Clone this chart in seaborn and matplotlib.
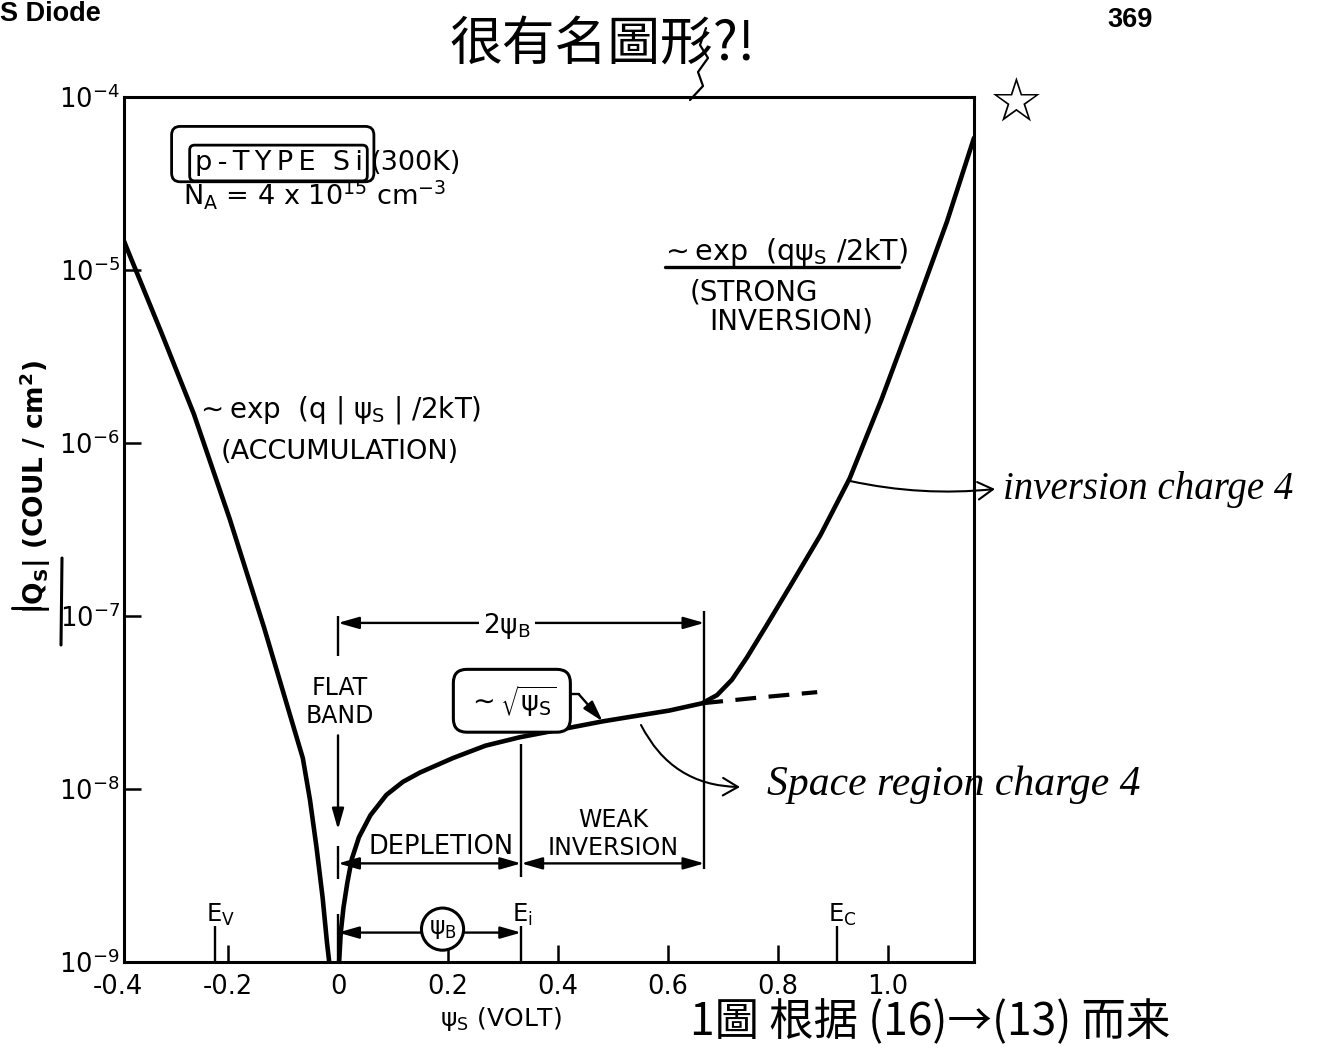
import matplotlib
matplotlib.use("Agg")
import matplotlib.pyplot as plt
import matplotlib.transforms as mtransforms
from matplotlib.lines import Line2D
from matplotlib.patches import FancyBboxPatch
from matplotlib.ticker import NullLocator
import pandas as pd
import seaborn as sns

# Surface space-charge density |Q_s| versus surface potential psi_s
# for p-type Si, N_A = 4e15 cm^-3 at 300 K.

# accumulation branch (psi_s < 0)
acc_psi = [-0.389, -0.384, -0.322, -0.262, -0.197, -0.134, -0.083, -0.064,
           -0.051, -0.039, -0.028, -0.020, -0.016]
acc_q = [1.47e-5, 1.34e-5, 4.42e-6, 1.47e-6, 3.65e-7, 8.49e-8, 2.41e-8, 1.51e-8,
         8.67e-9, 4.58e-9, 2.36e-9, 1.29e-9, 1.0e-9]

# depletion -> weak inversion -> strong inversion branch (psi_s > 0)
inv_psi = [0.002, 0.005, 0.010, 0.017, 0.025, 0.038, 0.059, 0.088, 0.118, 0.149,
           0.209, 0.268, 0.330, 0.421, 0.481, 0.540, 0.602, 0.662, 0.689, 0.716,
           0.743, 0.779, 0.823, 0.877, 0.930, 0.988, 1.048, 1.107, 1.156]
inv_q = [1.0e-9, 1.48e-9, 2.07e-9, 2.88e-9, 3.93e-9, 5.26e-9, 7.06e-9, 9.25e-9,
         1.10e-8, 1.245e-8, 1.51e-8, 1.78e-8, 1.99e-8, 2.26e-8, 2.46e-8, 2.64e-8,
         2.84e-8, 3.13e-8, 3.49e-8, 4.28e-8, 5.74e-8, 8.83e-8, 1.51e-7, 2.94e-7,
         6.24e-7, 1.79e-6, 5.82e-6, 1.91e-5, 5.80e-5]

# depletion charge continued beyond 2*psi_B (dashed)
ext_psi = [0.662, 0.770, 0.871]
ext_q = [3.13e-8, 3.39e-8, 3.63e-8]

# band-edge markers and bulk potential
band_psi = [-0.224, 0.333, 0.907]
band_labels = ["E$_V$", "E$_i$", "E$_C$"]
psi_b = 0.333

x_ticks = [-0.2, 0.0, 0.2, 0.4, 0.6, 0.8, 1.0]
x_tick_labels = ["-0.2", "0", "0.2", "0.4", "0.6", "0.8", "1.0"]
y_ticks = [1e-9, 1e-8, 1e-7, 1e-6, 1e-5, 1e-4]
y_tick_labels = ["10$^{-9}$", "10$^{-8}$", "10$^{-7}$", "10$^{-6}$",
                 "10$^{-5}$", "10$^{-4}$"]

sns.set_theme(style="ticks")
plt.rcParams["font.family"] = ["DejaVu Sans"]
plt.rcParams.update({
    "mathtext.default": "regular",
    "axes.unicode_minus": False,
    "text.color": "black",
    "axes.labelcolor": "black",
    "xtick.color": "black",
    "ytick.color": "black",
})

W, H = 1327, 1048
fig = plt.figure(figsize=(W / 100, H / 100), dpi=100, facecolor="white")
ax = fig.add_axes([124 / W, 1 - 962 / H, 850 / W, 865 / H])
ax.set_facecolor("white")
ax.set_yscale("log")

acc = pd.DataFrame({"psi": acc_psi, "q": acc_q})
inv = pd.DataFrame({"psi": inv_psi, "q": inv_q})
ext = pd.DataFrame({"psi": ext_psi, "q": ext_q})

for df in (acc, inv):
    sns.lineplot(data=df, x="psi", y="q", ax=ax, color="black", linewidth=3.3,
                 sort=False, estimator=None, solid_joinstyle="round")
sns.lineplot(data=ext, x="psi", y="q", ax=ax, color="black", linewidth=3.0,
             sort=False, estimator=None)
ax.lines[-1].set_linestyle((0, (5, 3)))

ax.set_xlim(-0.389, 1.156)
ax.set_ylim(1e-9, 1e-4)
ax.set_xticks(x_ticks, x_tick_labels)
ax.set_yticks(y_ticks, y_tick_labels)
ax.xaxis.set_minor_locator(NullLocator())
ax.yaxis.set_minor_locator(NullLocator())
ax.tick_params(axis="both", which="major", direction="in", width=1.8,
               labelsize=18.5, color="black", labelcolor="black")
ax.tick_params(axis="x", length=12.5, pad=9)
ax.tick_params(axis="y", length=12, pad=3)
for sp in ax.spines.values():
    sp.set_visible(True)
    sp.set_linewidth(2.2)
    sp.set_color("black")
ax.set_xlabel("")
ax.set_ylabel("")

# corner tick label of the psi axis
lab_tr = (mtransforms.blended_transform_factory(ax.transData, ax.transAxes)
          + mtransforms.ScaledTranslation(0, -9 / 72, fig.dpi_scale_trans))
ax.text(-0.4, 0, "-0.4", transform=lab_tr, ha="center", va="top",
        fontsize=18.5, clip_on=False)

LW = 1.7

# band-edge markers
ax.vlines(band_psi, 1e-9, 10 ** -8.79, color="black", lw=LW)
for x, lab in zip(band_psi, band_labels):
    ax.text(x - 0.016, 10 ** -8.765, lab, fontsize=17.5, ha="left", va="baseline")


def dim(x0, x1, y, style="<|-|>"):
    ax.annotate("", xy=(x1, y), xytext=(x0, y),
                arrowprops=dict(arrowstyle=f"{style},head_length=0.7,head_width=0.2",
                                color="black", lw=LW, shrinkA=0, shrinkB=0,
                                mutation_scale=18))


# 2 psi_B span
ax.vlines(0.0, 10 ** -7.23, 10 ** -7.00, color="black", lw=LW)
ax.vlines(2 * psi_b, 10 ** -8.46, 10 ** -6.97, color="black", lw=LW)
dim(0.0, 2 * psi_b, 10 ** -7.04)
ax.text(0.307, 10 ** -7.06, r"2$\psi_B$", fontsize=19, ha="center", va="center",
        bbox=dict(boxstyle="square,pad=0.15", fc="white", ec="none"))

# depletion / weak inversion spans
ax.vlines(psi_b, 10 ** -8.51, 10 ** -7.74, color="black", lw=LW)
ax.vlines(0.0, 10 ** -8.52, 10 ** -8.33, color="black", lw=LW)
dim(0.0, psi_b, 10 ** -8.43)
dim(psi_b, 2 * psi_b, 10 ** -8.43)
ax.text(0.187, 10 ** -8.337, "DEPLETION", fontsize=18.5, ha="center", va="center")
ax.text(0.501, 10 ** -8.258, "WEAK\nINVERSION", fontsize=17, ha="center",
        va="center", linespacing=1.2)

# psi_B span
ax.vlines(0.0, 1e-9, 10 ** -8.72, color="black", lw=LW)
dim(0.0, psi_b, 10 ** -8.83)
ax.text(0.190, 10 ** -8.81, r"$\psi_B$", fontsize=17, ha="center", va="center",
        bbox=dict(boxstyle="circle,pad=0.3", fc="white", ec="black", lw=2.2))

# flat band
ax.text(0.004, 10 ** -7.497, "FLAT\nBAND", fontsize=17, ha="center", va="center",
        linespacing=1.25)
ax.annotate("", xy=(0.0, 10 ** -8.234), xytext=(0.0, 10 ** -7.69),
            arrowprops=dict(arrowstyle="-|>,head_length=0.7,head_width=0.2",
                            color="black", lw=LW, shrinkA=0, shrinkB=0,
                            mutation_scale=18))

# square-root law label pointing at the depletion curve
ax.text(0.316, 10 ** -7.49, r"$\sim\sqrt{\psi_S}$", fontsize=19.5, ha="center",
        va="center",
        bbox=dict(boxstyle="round,pad=0.5", fc="white", ec="black", lw=2.2))
ax.plot([0.405, 0.438], [3.52e-8, 3.52e-8], color="black", lw=LW)
ax.annotate("", xy=(inv_psi[14], inv_q[14]), xytext=(0.438, 3.52e-8),
            arrowprops=dict(arrowstyle="-|>,head_length=0.7,head_width=0.2",
                            color="black", lw=LW, shrinkA=0, shrinkB=0,
                            mutation_scale=18))

# asymptotic laws
T = ax.transAxes
ax.text(0.631, 0.812, r"$\sim$exp  (q$\psi_S$ /2kT)", transform=T, fontsize=20.5,
        ha="left", va="baseline")
ax.plot([0.636, 0.912], [0.803, 0.803], transform=T, color="black", lw=2.4)
ax.text(0.666, 0.765, "(STRONG", transform=T, fontsize=20, ha="left",
        va="baseline")
ax.text(0.689, 0.731, "INVERSION)", transform=T, fontsize=20, ha="left",
        va="baseline")
ax.text(0.084, 0.629, r"$\sim$exp  (q | $\psi_S$ | /2kT)", transform=T,
        fontsize=20, ha="left", va="baseline")
ax.text(0.114, 0.581, "(ACCUMULATION)", transform=T, fontsize=19.5, ha="left",
        va="baseline")

# material box
thin = "\u2009"
ax.text(0.083, 0.9156, thin.join("p-TYPE") + "  " + thin.join("Si"),
        transform=T, fontsize=19.5, ha="left", va="baseline",
        bbox=dict(boxstyle="round,pad=0.18", fc="none", ec="black", lw=2.0))
ax.text(0.290, 0.9156, "(300K)", transform=T, fontsize=19.5, ha="left",
        va="baseline")
ax.add_patch(FancyBboxPatch((0.056, 0.902), 0.238, 0.064, transform=T,
                            boxstyle="round,pad=0,rounding_size=0.01",
                            fc="none", ec="black", lw=2.0))
ax.text(0.069, 0.8755, r"N$_A$ = 4 x 10$^{15}$ cm$^{-3}$", transform=T,
        fontsize=19.5, ha="left", va="baseline")

# axis titles
fig.text(440 / W, 1 - 1026 / H, r"$\psi_S$ (VOLT)", fontsize=18, ha="left",
         va="baseline")
fig.text(35 / W, 1 - 487 / H, r"|Q$_S$| (COUL / cm$^2$)", fontsize=19,
         fontweight="bold", rotation=90, ha="center", va="center")

# running head
fig.text(0.0, 1 - 1 / H, "S Diode", fontsize=19.5, fontweight="bold",
         family="Liberation Sans", ha="left", va="top")
fig.text(1130 / W, 1 - 20 / H, "369", fontsize=19.5, fontweight="bold",
         family="Liberation Sans", ha="center", va="center")

# reader's notes
cjk = ["Noto Sans CJK SC", "DejaVu Sans"]
fig.text(602 / W, 1 - 44 / H, "很有名圖形?!", fontsize=38, family=cjk,
         ha="center", va="center")
fig.text(690 / W, 1 - 1022 / H, "1圖 根据 (16)→(13) 而来", fontsize=32,
         family=cjk, ha="left", va="center")
fig.text(1015 / W, 1 - 105 / H, "☆", fontsize=44, family="DejaVu Sans",
         ha="center", va="center")


def pen(xs, ys, lw=1.6):
    fig.add_artist(Line2D([x / W for x in xs], [1 - y / H for y in ys],
                          color="black", lw=lw, transform=fig.transFigure))


pen([706, 700, 708, 698, 703, 690], [28, 45, 58, 72, 86, 100])
pen([62, 61], [558, 645], lw=2.2)
pen([12, 40], [608, 608], lw=2.2)

hand = dict(family="Liberation Serif", style="italic")
fig.text(1003 / W, 1 - 490 / H, "inversion charge 4", ha="left", va="center",
         fontsize=28, **hand)
fig.text(767 / W, 1 - 785 / H, "Space region charge 4", ha="left", va="center",
         fontsize=30, **hand)
ax.annotate("", xy=(995 / W, 1 - 489 / H), xytext=(850 / W, 1 - 481 / H),
            xycoords="figure fraction", textcoords="figure fraction",
            annotation_clip=False,
            arrowprops=dict(arrowstyle="->,head_length=0.6,head_width=0.35",
                            connectionstyle="arc3,rad=0.08", color="black",
                            lw=1.5, shrinkA=0, shrinkB=0, mutation_scale=18))
ax.annotate("", xy=(740 / W, 1 - 787 / H), xytext=(641 / W, 1 - 725 / H),
            xycoords="figure fraction", textcoords="figure fraction",
            annotation_clip=False,
            arrowprops=dict(arrowstyle="->,head_length=0.6,head_width=0.35",
                            connectionstyle="arc3,rad=0.3", color="black",
                            lw=1.5, shrinkA=0, shrinkB=0, mutation_scale=18))

fig.savefig("out.png", dpi=100, facecolor="white")
